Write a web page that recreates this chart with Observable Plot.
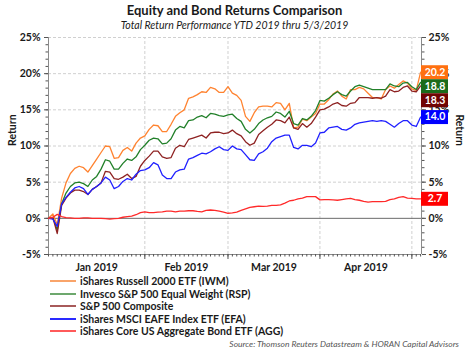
<!DOCTYPE html>
<html><head><meta charset="utf-8">
<script src="https://cdn.jsdelivr.net/npm/d3@7"></script>
<script src="https://cdn.jsdelivr.net/npm/@observablehq/plot@0.6"></script>
<style>
body{margin:0;background:#fff;font-family:Lato,"Liberation Sans",sans-serif;color:#1a1a1a}
#wrap{position:relative;width:469px;height:351px;overflow:hidden}
.title{text-align:center;font-weight:bold;font-size:13px;height:16px;line-height:16px;padding-top:2px}
.sub{text-align:center;font-style:italic;font-size:10.5px;height:14px;line-height:14px}
#legend{position:absolute;left:50px;top:275px;font-size:10.5px;font-weight:bold}
#legend .row{height:12.5px;line-height:12.5px;display:flex;align-items:center}
#legend svg{margin-right:4px}
.src{position:absolute;right:10px;top:339px;font-size:8.5px;font-style:italic;color:#555}
</style></head><body>
<div id="wrap">
<div class="title">Equity and Bond Returns Comparison</div>
<div class="sub">Total Return Performance YTD 2019 thru 5/3/2019</div>
<div id="chart"></div>
<div id="legend"></div>
<div class="src">Source: Thomson Reuters Datastream &amp; HORAN Capital Advisors</div>
</div>
<script>
const dates = ["2018-12-31",
"2019-01-02","2019-01-03","2019-01-04","2019-01-07","2019-01-08","2019-01-09","2019-01-10","2019-01-11","2019-01-14","2019-01-15","2019-01-16","2019-01-17","2019-01-18","2019-01-22","2019-01-23","2019-01-24","2019-01-25","2019-01-28","2019-01-29","2019-01-30","2019-01-31",
"2019-02-01","2019-02-04","2019-02-05","2019-02-06","2019-02-07","2019-02-08","2019-02-11","2019-02-12","2019-02-13","2019-02-14","2019-02-15","2019-02-19","2019-02-20","2019-02-21","2019-02-22","2019-02-25","2019-02-26","2019-02-27","2019-02-28",
"2019-03-01","2019-03-04","2019-03-05","2019-03-06","2019-03-07","2019-03-08","2019-03-11","2019-03-12","2019-03-13","2019-03-14","2019-03-15","2019-03-18","2019-03-19","2019-03-20","2019-03-21","2019-03-22","2019-03-25","2019-03-26","2019-03-27","2019-03-28","2019-03-29",
"2019-04-01","2019-04-02","2019-04-03","2019-04-04","2019-04-05","2019-04-08","2019-04-09","2019-04-10","2019-04-11","2019-04-12","2019-04-15","2019-04-16","2019-04-17","2019-04-18","2019-04-22","2019-04-23","2019-04-24","2019-04-25","2019-04-26","2019-04-29","2019-04-30",
"2019-05-01","2019-05-02","2019-05-03"];
const monthLabels = ["Jan 2019","Feb 2019","Mar 2019","Apr 2019"];
const seriesNames = ["iShares Russell 2000 ETF (IWM)","Invesco S&P 500 Equal Weight (RSP)","S&P 500 Composite","iShares MSCI EAFE Index ETF (EFA)","iShares Core US Aggregate Bond ETF (AGG)"];
const lineColors = ["#ff8330","#22802a","#8e2222","#2020ff","#ff2a2a"];
const legendColors = ["#f9a46a","#6da86d","#a85a5a","#2a2aff","#ff5a5a"];
const boxColors = ["#ff7010","#1b6b1b","#700404","#0000ff","#ff0000"];
const iwm = [0,0.6,-0.9,2.8,4.9,6.2,6.9,7.2,7.0,6.4, 7.3,8.2,9.1,10.0,9.9,8.3,8.4,9.4,9.8,9.3, 10.4,11.1,11.4,12.3,12.9,12.8,12.0,12.0,13.0,14.1, 14.6,15.0,16.6,16.8,17.1,17.5,17.4,18.1,17.9,17.4, 17.4,18.2,17.3,17.0,16.3,14.1,13.4,14.6,15.4,15.5, 15.5,15.4,16.0,15.9,15.0,15.9,12.5,12.6,13.7,13.5, 14.0,14.5,15.8,15.8,16.4,17.2,17.6,16.9,16.5,17.8, 17.8,18.1,17.9,17.3,16.7,16.7,16.5,17.8,18.3,18.0, 18.5,19.0,18.7,17.9,17.7,20.2];
const rsp = [0,0.1,-1.6,2.0,3.5,4.4,4.9,5.0,4.8,4.4, 5.3,5.8,6.8,8.1,7.9,6.8,6.8,7.6,8.2,8.0, 8.5,9.5,10.1,10.8,11.1,11.0,10.3,10.4,11.0,12.2, 12.7,12.5,13.5,13.6,14.0,14.2,13.9,14.5,14.4,14.2, 14.1,14.3,14.4,13.8,13.4,12.3,11.8,12.3,13.1,13.6, 13.9,14.1,14.7,14.5,14.0,14.8,13.1,12.9,13.8,13.6, 14.1,14.9,16.3,16.2,16.6,17.1,17.5,17.1,16.9,17.6, 18.2,18.4,18.2,18.0,17.8,17.8,17.8,17.8,18.6,18.3, 18.2,18.7,18.8,18.2,17.8,18.8];
const spx = [0,0.1,-2.1,1.8,2.8,3.5,3.9,3.9,3.7,3.3, 4.0,4.4,4.9,6.5,6.4,5.5,5.4,5.7,6.1,5.5, 5.8,7.2,8.0,8.6,9.3,9.3,8.5,8.3,8.4,9.7, 10.1,9.9,10.9,11.1,11.3,11.5,11.1,11.8,11.9,11.9, 11.7,11.8,12.2,11.7,11.4,10.6,10.1,10.4,11.6,12.1, 12.6,13.0,13.6,13.5,13.2,14.0,12.5,12.3,13.1,12.6, 13.1,14.0,15.0,15.1,15.4,15.8,16.0,15.6,15.5,15.9, 16.0,16.7,16.7,16.7,16.6,16.7,16.6,16.9,17.8,17.5, 17.6,18.1,18.3,17.6,17.5,18.3];
const efa = [0,-0.1,-1.1,2.0,2.9,3.6,4.2,4.4,4.1,3.3, 4.0,4.4,4.9,5.7,5.3,4.1,4.4,5.1,5.5,5.3, 6.1,6.6,6.7,7.0,7.7,7.4,6.0,5.5,5.5,6.4, 6.7,6.8,8.2,8.4,8.7,9.0,8.9,9.2,9.6,9.9, 9.5,9.4,10.0,9.6,9.5,8.8,8.1,8.0,8.9,9.2, 9.7,10.6,11.1,11.3,11.5,11.5,9.8,9.6,10.1,10.1, 9.9,10.4,11.8,11.9,12.5,12.6,12.7,12.3,12.2,12.5, 13.0,13.2,13.3,13.4,13.5,13.4,13.5,13.4,13.0,12.6, 13.1,13.5,13.5,12.9,12.7,14.0];
const agg = [0,0.15,0.55,0.25,0.1,0.05,0,0,0.05,0.05, 0,0,0,-0.05,-0.1,-0.05,0,0.15,0.25,0.3, 0.5,0.8,0.9,0.8,0.8,0.85,0.9,1.0,1.0,0.9, 1.0,1.0,1.05,1.05,0.95,0.9,1.1,1.15,1.1,1.0, 0.85,0.7,0.75,0.85,1.1,1.3,1.5,1.6,1.7,1.65, 1.7,1.8,1.8,1.85,2.1,2.4,2.5,2.7,2.8,3.0, 3.0,3.0,2.55,2.6,2.6,2.55,2.5,2.6,2.7,2.75, 2.6,2.5,2.35,2.25,2.3,2.3,2.3,2.35,2.6,2.7, 2.9,3.0,2.8,2.75,2.7,2.7];
const yMajor = [-5,0,5,10,15,20,25];
const yGrid = [5,10,15,20,25];

const series = [iwm, rsp, spx, efa, agg];
const data = [];
series.forEach((arr, s) => arr.forEach((v, i) => data.push({i, date: dates[i], v, s})));

// month boundaries (first trading day index of each month after the first date)
const monthStarts = [0];
for (let i = 2; i < dates.length; i++) if (dates[i].slice(5,7) !== dates[i-1].slice(5,7)) monthStarts.push(i);
const gridX = monthStarts.slice(1);
const labelPos = monthLabels.map((m, k) => ({x: (monthStarts[k] + monthStarts[k+1]) / 2, m}));

const W = 469, H = 245, mt = 5, mb = 23, ml = 48, mr = 48;
const xMax = dates.length - 1 + 0.2;
const pxPerX = (W - ml - mr) / xMax;
const pxPerY = (H - mt - mb) / 30;

// end labels with simple collision avoidance
const gap = 14 / pxPerY;
const finals = series.map((a, s) => ({s, v: a[a.length - 1]}));
const sorted = [...finals].sort((a, b) => b.v - a.v);
let prev = Infinity;
for (const f of sorted) { f.ly = Math.min(f.v, prev - gap); prev = f.ly; }
const boxW = 27 / pxPerX;

const chart = Plot.plot({
  width: W, height: H, marginTop: mt, marginBottom: mb, marginLeft: ml, marginRight: mr,
  style: {fontFamily: "Lato, 'Liberation Sans', sans-serif", fontSize: "10px", color: "#1a1a1a", background: "#fff"},
  x: {domain: [0, xMax]},
  y: {domain: [-5, 25]},
  marks: [
    Plot.ruleY(yGrid, {stroke: "#d0d0d0", strokeDasharray: "3,2"}),
    Plot.ruleX(gridX, {y1: -5, y2: 25, stroke: "#d0d0d0", strokeDasharray: "3,2"}),
    Plot.ruleY([0], {stroke: "#6a6a6a", strokeWidth: 1}),
    Plot.ruleY([-5], {stroke: "#8a8a8a"}),
    Plot.ruleX([0, xMax], {y1: -5, y2: 25, stroke: "#8a8a8a"}),
    Plot.axisY({anchor: "left", ticks: d3.range(-5, 26, 1), tickSize: 2.5, tickFormat: () => "", label: null, stroke: "#555"}),
    Plot.axisY({anchor: "left", ticks: yMajor, tickSize: 4, tickPadding: 4, tickFormat: d => d + "%", label: null, fontWeight: "bold", fontSize: 10.5, stroke: "#555"}),
    Plot.axisY({anchor: "right", ticks: d3.range(-5, 26, 1), tickSize: 2.5, tickFormat: () => "", label: null, stroke: "#555"}),
    Plot.axisY({anchor: "right", ticks: yMajor, tickSize: 4, tickPadding: 3, tickFormat: d => d + "%", label: null, fontWeight: "bold", fontSize: 10.5, stroke: "#555"}),
    Plot.axisX({ticks: d3.range(0, dates.length), tickSize: 2.5, tickFormat: () => "", label: null, stroke: "#555"}),
    Plot.axisX({ticks: gridX, tickSize: 5, tickFormat: () => "", label: null, stroke: "#555"}),
    Plot.text(labelPos, {x: "x", y: -5, text: "m", dy: 13, fontWeight: "bold", fontSize: 10.5}),
    Plot.text(["Return"], {frameAnchor: "left", dx: -36, rotate: -90, fontWeight: "bold", fontSize: 10.5}),
    Plot.text(["Return"], {frameAnchor: "right", dx: 38, rotate: 90, fontWeight: "bold", fontSize: 10.5}),
    Plot.line(data, {x: "i", y: "v", z: "s", stroke: d => lineColors[d.s], strokeWidth: 1.3, curve: "linear"}),
    Plot.ruleY(finals, {y: "ly", x1: xMax, x2: xMax + boxW, stroke: d => boxColors[d.s], strokeWidth: 14}),
    Plot.text(finals, {x: xMax, y: "ly", dx: 13.5, text: d => d.v.toFixed(1), fill: "white", fontWeight: "bold", fontSize: 10.5})
  ]
});
document.getElementById("chart").appendChild(chart);

const leg = document.getElementById("legend");
seriesNames.forEach((n, s) => {
  const row = document.createElement("div");
  row.className = "row";
  row.innerHTML = `<svg width="26" height="4"><line x1="0" y1="2" x2="26" y2="2" stroke="${legendColors[s]}" stroke-width="2"/></svg><span></span>`;
  row.querySelector("span").textContent = n;
  leg.appendChild(row);
});
</script>
</body></html>
